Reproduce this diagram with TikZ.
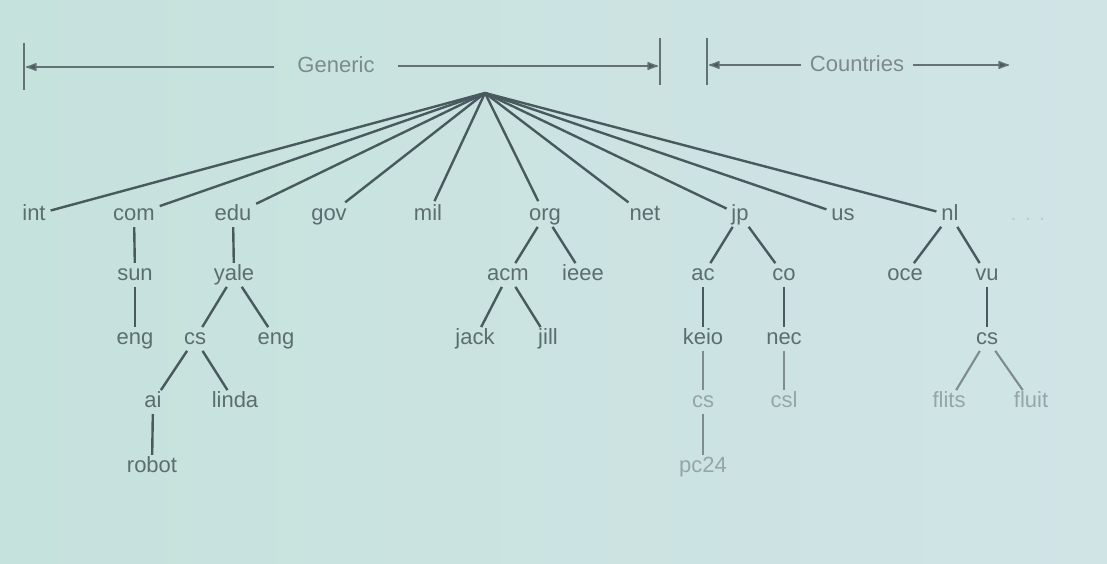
\documentclass[tikz,border=0pt]{standalone}
\usepackage{fontspec}
\usetikzlibrary{arrows.meta}
\setmainfont{Liberation Sans}
\definecolor{bgleft}{HTML}{C6E2DD}
\definecolor{bgright}{HTML}{D0E4E6}
\definecolor{ink}{HTML}{485A5D}
\definecolor{txt}{HTML}{5C6D70}
\definecolor{pale}{HTML}{95A6A8}
\tikzset{
  lbl/.style={text=txt,font=\fontsize{22}{26}\selectfont,inner sep=1pt,text height=14pt,text depth=4pt},
  palelbl/.style={lbl,text=pale},
  headlbl/.style={lbl,text=txt!80},
  edge/.style={draw=ink,line width=2.4pt,shorten <=2pt,shorten >=2pt},
  rootedge/.style={draw=ink,line width=2.4pt,shorten >=4pt},
  paleedge/.style={edge,draw=ink!70,line width=2.1pt},
  dim/.style={draw=ink!85,line width=1.4pt},
  dimarrow/.style={dim,-{Latex[length=13pt,width=9pt,round,fill=ink]}},
}
\begin{document}
\begin{tikzpicture}[x=1pt,y=-1pt]
  \shade[left color=bgleft,right color=bgright] (0,0) rectangle (1107,564);
  \useasboundingbox (0,0) rectangle (1107,564);
  % header
  \node[headlbl,inner xsep=23pt] (generic) at (336,68) {Generic};
  \node[headlbl,inner xsep=9pt] (countries) at (857,67) {Countries};
  \coordinate (genL) at (26,67);
  \coordinate (genR) at (658,66);
  \coordinate (cntL) at (709,65);
  \coordinate (cntR) at (1009,65);
  \draw[dim] (24,43) -- (24,90);
  \draw[dim] (660,38) -- (660,85);
  \draw[dim] (707,38) -- (707,85);
  \draw[dimarrow] (generic.west |- genL) -- (genL);
  \draw[dimarrow] (generic.east |- genR) -- (genR);
  \draw[dimarrow] (countries.west |- cntL) -- (cntL);
  \draw[dimarrow] (countries.east |- cntR) -- (cntR);
  % top level
  \coordinate (root) at (485,93);
  \node[lbl] (int) at (34,215) {int};
  \node[lbl] (com) at (134,215) {com};
  \node[lbl] (edu) at (233,215) {edu};
  \node[lbl] (gov) at (329,215) {gov};
  \node[lbl] (mil) at (428,215) {mil};
  \node[lbl] (org) at (545,215) {org};
  \node[lbl] (net) at (645,215) {net};
  \node[lbl] (jp) at (740,215) {jp};
  \node[lbl] (us) at (843,215) {us};
  \node[lbl] (nl) at (950,215) {nl};
  \node[lbl,text=pale!60] (more) at (1028,215) {. . .};
  \foreach \n in {int,com,edu,gov,mil,org,net,jp,us,nl}
    \draw[rootedge] (root) -- (\n);
  % second level
  \node[lbl] (sun) at (135,275) {sun};
  \node[lbl] (yale) at (234,275) {yale};
  \node[lbl] (acm) at (508,275) {acm};
  \node[lbl] (ieee) at (583,275) {ieee};
  \node[lbl] (ac) at (703,275) {ac};
  \node[lbl] (co) at (784,275) {co};
  \node[lbl] (oce) at (905,275) {oce};
  \node[lbl] (vu) at (987,275) {vu};
  \draw[edge] (com) -- (sun);
  \draw[edge] (edu) -- (yale);
  \draw[edge] (org) -- (acm);
  \draw[edge] (org) -- (ieee);
  \draw[edge] (jp) -- (ac);
  \draw[edge] (jp) -- (co);
  \draw[edge] (nl) -- (oce);
  \draw[edge] (nl) -- (vu);
  % third level
  \node[lbl] (suneng) at (135,339) {eng};
  \node[lbl] (yalecs) at (195,339) {cs};
  \node[lbl] (yaleeng) at (276,339) {eng};
  \node[lbl] (jack) at (475,339) {jack};
  \node[lbl] (jill) at (548,339) {jill};
  \node[lbl] (keio) at (703,339) {keio};
  \node[lbl] (nec) at (784,339) {nec};
  \node[lbl] (vucs) at (987,339) {cs};
  \draw[edge] (sun) -- (suneng);
  \draw[edge] (yale) -- (yalecs);
  \draw[edge] (yale) -- (yaleeng);
  \draw[edge] (acm) -- (jack);
  \draw[edge] (acm) -- (jill);
  \draw[edge] (ac) -- (keio);
  \draw[edge] (co) -- (nec);
  \draw[edge] (vu) -- (vucs);
  % fourth level
  \node[lbl] (ai) at (153,402) {ai};
  \node[lbl] (linda) at (235,402) {linda};
  \node[palelbl] (keiocs) at (703,402) {cs};
  \node[palelbl] (csl) at (784,402) {csl};
  \node[palelbl] (flits) at (949,402) {flits};
  \node[palelbl] (fluit) at (1031,402) {fluit};
  \draw[edge] (yalecs) -- (ai);
  \draw[edge] (yalecs) -- (linda);
  \draw[paleedge] (keio) -- (keiocs);
  \draw[paleedge] (nec) -- (csl);
  \draw[paleedge] (vucs) -- (flits);
  \draw[paleedge] (vucs) -- (fluit);
  % fifth level
  \node[lbl] (robot) at (152,467) {robot};
  \node[palelbl] (pc24) at (703,467) {pc24};
  \draw[edge] (ai) -- (robot);
  \draw[paleedge] (keiocs) -- (pc24);
\end{tikzpicture}
\end{document}
